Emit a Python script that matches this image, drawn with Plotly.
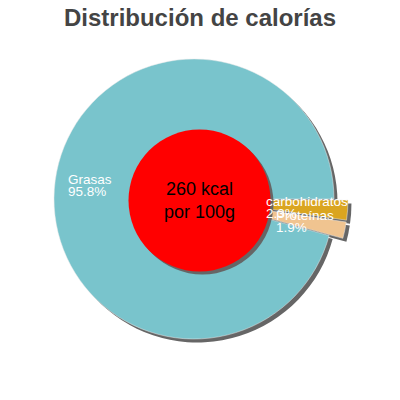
import math
import plotly.graph_objects as go

# data
labels = ["carbohidratos", "Proteínas", "Grasas"]
values = [2.3, 1.9, 95.8]
pulls = [0.1, 0.1, 0]
colors = ["#DAA520", "#F0C490", "#79C4CC"]
center_text = "260 kcal<br>por 100g"
title_text = "Distribución de calorías"

W = H = 400
cx, cy, R = 194, 199, 140          # pie centre / radius in pixels
shadow = 3.5                        # shadow offset in pixels
box = R * (1 + max(pulls))          # plotly shrinks pie to fit the pull


def dom(dx=0, dy=0):
    return dict(x=[(cx - box + dx) / W, (cx + box + dx) / W],
                y=[1 - (cy + box + dy) / H, 1 - (cy - box + dy) / H])


fig = go.Figure()

# shadow pie
fig.add_trace(go.Pie(
    labels=labels, values=values, pull=pulls, sort=False,
    direction="clockwise", rotation=90, domain=dom(shadow, shadow),
    marker=dict(colors=["#666666"] * len(values), line=dict(width=0)),
    textinfo="none", hoverinfo="skip", showlegend=False,
))

fig.add_trace(go.Pie(
    labels=labels, values=values, pull=pulls, sort=False,
    direction="clockwise", rotation=90, domain=dom(),
    marker=dict(colors=colors, line=dict(color="#e8e8e8", width=0.5)),
    textinfo="none", showlegend=False,
))

# centre disc with its shadow
ccx, ccy, cr = 199.5, 200.5, 71
for off, col in [(3, "#666666"), (0, "#FF0000")]:
    fig.add_shape(type="circle", xref="paper", yref="paper",
                  x0=(ccx - cr + off) / W, x1=(ccx + cr + off) / W,
                  y0=1 - (ccy + cr + off) / H, y1=1 - (ccy - cr + off) / H,
                  fillcolor=col, line=dict(width=0))

fig.add_annotation(x=ccx / W, y=1 - ccy / H, xref="paper", yref="paper",
                   text=center_text, showarrow=False,
                   font=dict(size=18, color="black", family="Liberation Sans"))

# slice labels (name and percent on tight separate lines)
total = sum(values)
label_r = [0.50, 0.58, 0.92]
label_dy = [3.5, 6.5, 3.5]
line_gap = 6
start = 0
for lab, v, rf, dy in zip(labels, values, label_r, label_dy):
    mid = math.radians((start + v / 2) / total * 360)
    start += v
    px_ = cx + rf * R * math.cos(mid)
    py_ = cy + rf * R * math.sin(mid) + dy
    for txt, shift in [(lab, line_gap), (f"{v / total * 100:.1f}%", -line_gap)]:
        fig.add_annotation(x=px_ / W, y=1 - py_ / H, xref="paper", yref="paper",
                           text=txt, showarrow=False, yshift=shift,
                           xanchor="left", yanchor="middle", align="left",
                           font=dict(size=13.5, color="white", family="Liberation Sans"))

fig.update_layout(
    width=W, height=H,
    margin=dict(l=0, r=0, t=0, b=0),
    paper_bgcolor="white", plot_bgcolor="white",
    title=dict(text=title_text, x=0.5, xanchor="center", y=1 - 18 / H, yanchor="middle",
               font=dict(size=24, color="#444444", family="Liberation Sans", weight="bold")),
)

fig.write_html("out.html", config={"displayModeBar": False},
               post_script="document.body.style.margin='0';")
